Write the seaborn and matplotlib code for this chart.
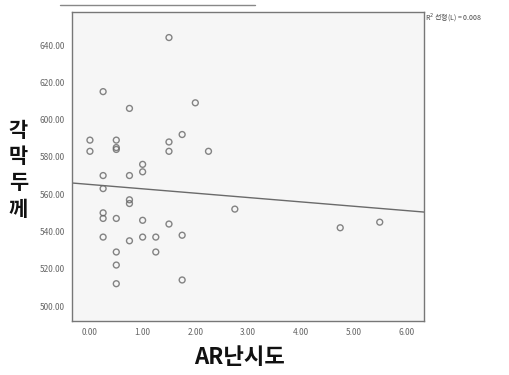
import seaborn as sns
import matplotlib.pyplot as plt
import pandas as pd
from matplotlib.lines import Line2D

# AR astigmatism vs corneal thickness
ar = [0.0, 0.0,
      0.25, 0.25, 0.25, 0.25, 0.25, 0.25,
      0.5, 0.5, 0.5, 0.5, 0.5, 0.5, 0.5,
      0.75, 0.75, 0.75, 0.75, 0.75,
      1.0, 1.0, 1.0, 1.0,
      1.25, 1.25,
      1.5, 1.5, 1.5, 1.5,
      1.75, 1.75, 1.75,
      2.0, 2.25, 2.75, 4.75, 5.5]
thick = [589, 583,
         615, 570, 563, 550, 547, 537,
         589, 585, 584, 547, 529, 522, 512,
         606, 570, 557, 555, 535,
         576, 572, 546, 537,
         537, 529,
         644, 588, 583, 544,
         592, 538, 514,
         609, 583, 552, 542, 545]
xticks = [0, 1, 2, 3, 4, 5, 6]
yticks = [500, 520, 540, 560, 580, 600, 620, 640]

df = pd.DataFrame({"ar": ar, "thick": thick})

sns.set_style("white")
plt.rcParams['font.family'] = ['Noto Sans CJK KR', 'DejaVu Sans']

fig = plt.figure(figsize=(5.09, 3.75), dpi=100)
ax = fig.add_axes([0.1415, 0.144, 0.6915, 0.824])
ax.set_facecolor("#f6f6f6")
ax.set_xlim(-0.34, 6.34)
ax.set_ylim(492, 657.7)

sns.regplot(data=df, x="ar", y="thick", ax=ax, ci=None, truncate=False,
            scatter_kws=dict(marker="o", s=18, facecolors="none",
                             edgecolors="#666666", linewidths=1.0),
            line_kws=dict(color="#6a6a6a", lw=1.0))

ax.set_xticks(xticks)
ax.set_yticks(yticks)
ax.set_xticklabels([f"{v:.2f}" for v in xticks])
ax.set_yticklabels([f"{v:.2f}" for v in yticks])
ax.tick_params(axis="both", direction="out", length=3, width=0.8,
               color="#555555", labelsize=6, labelcolor="#666666", pad=2)
for s in ax.spines.values():
    s.set_color("#777777")
    s.set_linewidth(1.0)
ax.set_xlabel("")
ax.set_ylabel("")

fig.text(0.471, 0.048, "AR난시도", fontsize=16, fontweight="bold",
         ha="center", va="center", color="#111111")
fig.text(0.036, 0.547, "각\n막\n두\n께", fontsize=15, fontweight="bold",
         ha="center", va="center", linespacing=1.3, color="#111111")
fig.text(0.835, 0.955, "R$^2$ 선형(L) = 0.008", fontsize=5, color="#444444",
         ha="left", va="center")

fig.add_artist(Line2D([60 / 509, 255 / 509], [1 - 4.5 / 375, 1 - 4.5 / 375],
                      color="#888888", lw=1.0))

fig.savefig("out.png", dpi=100, facecolor="white")
